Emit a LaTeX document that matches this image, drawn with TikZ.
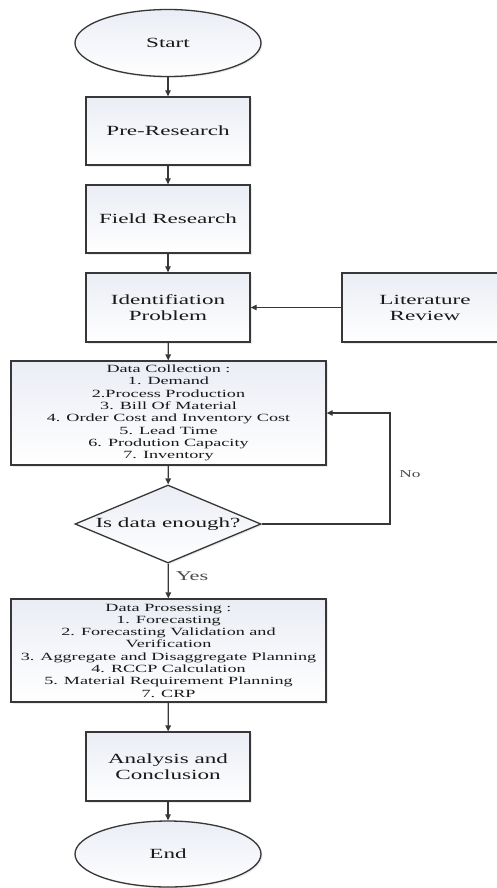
\documentclass[tikz,border=0pt]{standalone}
\usepackage{fontspec}
\setmainfont{Liberation Serif}[FakeStretch=1.65]
\usetikzlibrary{shapes.geometric,arrows.meta,shadows}
\definecolor{boxtop}{RGB}{234,237,245}
\definecolor{boxline}{RGB}{55,55,55}
\begin{document}
\begin{tikzpicture}[x=1pt,y=-1pt,
  base/.style={draw=boxline, line width=1.3pt, top color=boxtop, bottom color=white,
    drop shadow={shadow xshift=1.5pt, shadow yshift=-1.5pt, fill=black!15},
    text=black!90, align=center, inner sep=0pt},
  titlebox/.style={base, rectangle, minimum width=164pt, minimum height=68pt,
    font=\fontsize{14}{16}\selectfont},
  listbox/.style={base, rectangle, minimum width=315pt, minimum height=104pt,
    font=\fontsize{11}{12.3}\selectfont},
  oval/.style={base, ellipse, minimum width=186pt, minimum height=67pt,
    font=\fontsize{14}{16}\selectfont},
  decision/.style={base, diamond, aspect=2.4, minimum width=186pt, minimum height=78pt,
    font=\fontsize{14}{16}\selectfont},
  arr/.style={draw=boxline, line width=1.2pt, -{Triangle[length=6pt,width=5.5pt]}},
  lbl/.style={text=black!70}]
\useasboundingbox (0,0) rectangle (497,888);
\fill[white] (0,0) rectangle (497,888);

\node[oval] (start) at (168,43) {Start};
\node[titlebox] (pre) at (168,131) {Pre-Research};
\node[titlebox] (field) at (168,219) {Field Research};
\node[titlebox, minimum height=69pt] (ident) at (168,307.5) {Identifiation\\Problem};
\node[titlebox, minimum width=166pt, minimum height=69pt] (lit) at (425,307.5) {Literature\\Review};
\node[listbox] (dc) at (168.5,413) {Data Collection :\\1. Demand\\2.Process Production\\3. Bill Of Material\\4. Order Cost and Inventory Cost\\5. Lead Time\\6. Prodution Capacity\\7. Inventory};
\node[decision] (dia) at (168,524) {Is data enough?};
\node[listbox, minimum height=103pt] (dp) at (168.5,650.5) {Data Prosessing :\\1. Forecasting\\2. Forecasting Validation and\\Verification\\3. Aggregate and Disaggregate Planning\\4. RCCP Calculation\\5. Material Requirement Planning\\7. CRP};
\node[titlebox, minimum height=69pt] (ana) at (168,766.5) {Analysis and\\Conclusion};
\node[oval, minimum height=66pt] (end) at (168,854) {End};

\coordinate (nocorner) at (390,413);

\draw[arr] (start) -- (pre);
\draw[arr] (pre) -- (field);
\draw[arr] (field) -- (ident);
\draw[arr] (lit) -- (ident);
\draw[arr] (ident) -- (dc);
\draw[arr] (dc) -- (dia);
\draw[arr] (dia.east) -| (nocorner) -- (dc.east);
\draw[arr] (dia) -- (dp);
\draw[arr] (dp) -- (ana);
\draw[arr] (ana) -- (end);

\node[lbl, font=\fontsize{10.5}{12}\selectfont] (nolbl) at (410,474) {No};
\node[lbl, font=\fontsize{13.5}{15}\selectfont] (yeslbl) at (192,576) {Yes};
\end{tikzpicture}
\end{document}
